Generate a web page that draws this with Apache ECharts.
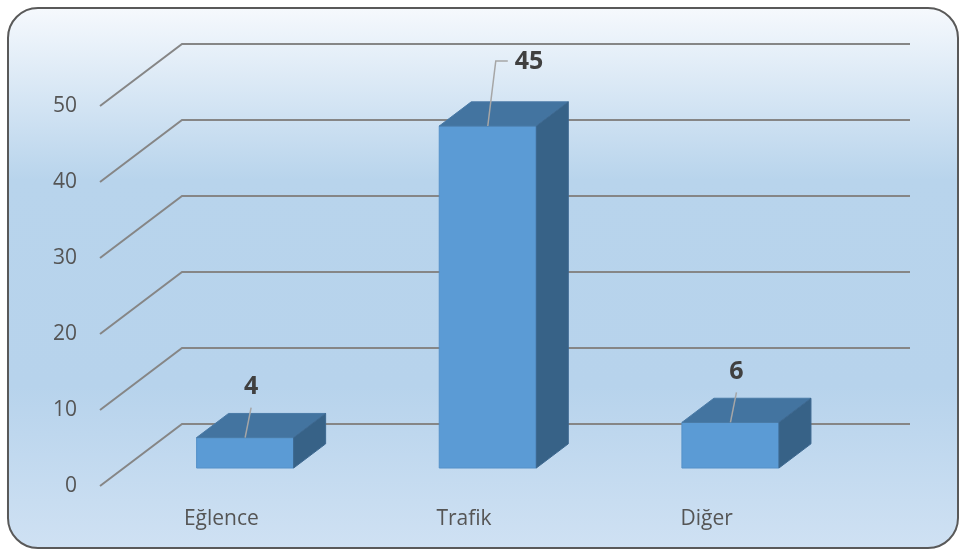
<!DOCTYPE html>
<html><head><meta charset="utf-8">
<script src="https://cdn.jsdelivr.net/npm/echarts@6/dist/echarts.min.js"></script>
<style>html,body{margin:0;padding:0;background:#fff}#c{width:960px;height:550px}</style>
</head><body><div id="c"></div>
<script>
const categories = ['Eğlence', 'Trafik', 'Diğer'];
const values = [4, 45, 6];
const yTicks = [0, 10, 20, 30, 40, 50];

const DX = 82, DY = -62;      // depth of the 3D box
const F0 = 0.29, F1 = 0.68;   // bar position inside depth
const FONT = "'Open Sans', 'Noto Sans', sans-serif";

const chart = echarts.init(document.getElementById('c'));

function gridItem(params, api) {
  const cs = params.coordSys;
  const y = api.coord([0, api.value(1)])[1];
  return {
    type: 'polyline',
    shape: { points: [[cs.x, y], [cs.x + DX, y + DY], [cs.x + cs.width + DX, y + DY]] },
    style: { stroke: '#868686', lineWidth: 2, fill: null }
  };
}

function barItem(params, api) {
  const cs = params.coordSys;
  const idx = api.value(0), val = api.value(1);
  const base = api.coord([idx, 0]);
  const top = api.coord([idx, val]);
  const band = api.size([1, 0])[0];
  const w = band * 0.4;
  const x0 = base[0] - w / 2 + F0 * DX, x1 = x0 + w;
  const yT = top[1] + F0 * DY, yB = base[1] + F0 * DY;
  const ddx = (F1 - F0) * DX, ddy = (F1 - F0) * DY;
  const xc = (x0 + x1) / 2;
  const children = [
    { type: 'polygon', shape: { points: [[x0, yT], [x1, yT], [x1, yB], [x0, yB]] },
      style: { fill: '#5b9bd5', stroke: '#5592c9', lineWidth: 1 } },
    { type: 'polygon', shape: { points: [[x0, yT], [x1, yT], [x1 + ddx, yT + ddy], [x0 + ddx, yT + ddy]] },
      style: { fill: '#4374a0', stroke: '#4a7aa6', lineWidth: 1 } },
    { type: 'polygon', shape: { points: [[x1, yT], [x1 + ddx, yT + ddy], [x1 + ddx, yB + ddy], [x1, yB]] },
      style: { fill: '#376287', stroke: '#3d6890', lineWidth: 1 } }
  ];
  if (yT - 80 < cs.y) {
    children.push({ type: 'polyline', shape: { points: [[xc, yT], [xc + 8, yT - 65], [xc + 20, yT - 65]] },
      style: { stroke: '#a6a6a6', lineWidth: 1.5, fill: null } });
    children.push({ type: 'text', x: xc + 27, y: yT - 64,
      style: { text: String(val), font: 'bold 25px ' + FONT, fill: '#404040', align: 'left', verticalAlign: 'middle' } });
  } else {
    children.push({ type: 'line', shape: { x1: xc, y1: yT, x2: xc + 6, y2: yT - 30 },
      style: { stroke: '#a6a6a6', lineWidth: 1.5 } });
    children.push({ type: 'text', x: xc + 6, y: yT - 51,
      style: { text: String(val), font: 'bold 25px ' + FONT, fill: '#404040', align: 'center', verticalAlign: 'middle' } });
  }
  return { type: 'group', children };
}

chart.setOption({
  animation: false,
  graphic: [{
    type: 'rect', z: -10, silent: true,
    shape: { x: 8, y: 8, width: 950, height: 540, r: 30 },
    style: {
      fill: new echarts.graphic.LinearGradient(0, 0, 0, 1, [
        { offset: 0, color: '#f6f9fd' },
        { offset: 0.32, color: '#b8d4ec' },
        { offset: 0.7, color: '#b7d3ec' },
        { offset: 1, color: '#cfe1f3' }
      ]),
      stroke: '#595959', lineWidth: 2
    }
  }],
  grid: { left: 100, right: 132, top: 106, bottom: 64 },
  xAxis: {
    type: 'category', data: categories,
    axisLine: { show: false }, axisTick: { show: false }, splitLine: { show: false },
    axisLabel: { margin: 23, color: '#555555', fontSize: 21, fontFamily: FONT }
  },
  yAxis: {
    type: 'value', min: 0, max: 50, interval: 10,
    axisLine: { show: false }, axisTick: { show: false }, splitLine: { show: false },
    axisLabel: { margin: 23, color: '#555555', fontSize: 21, fontFamily: FONT }
  },
  series: [
    { type: 'custom', z: 1, silent: true, renderItem: gridItem,
      encode: { x: 0, y: 1 }, data: yTicks.map(v => [0, v]) },
    { type: 'custom', z: 2, silent: true, renderItem: barItem,
      encode: { x: 0, y: 1 }, data: values.map((v, i) => [i, v]) }
  ]
});
</script></body></html>
